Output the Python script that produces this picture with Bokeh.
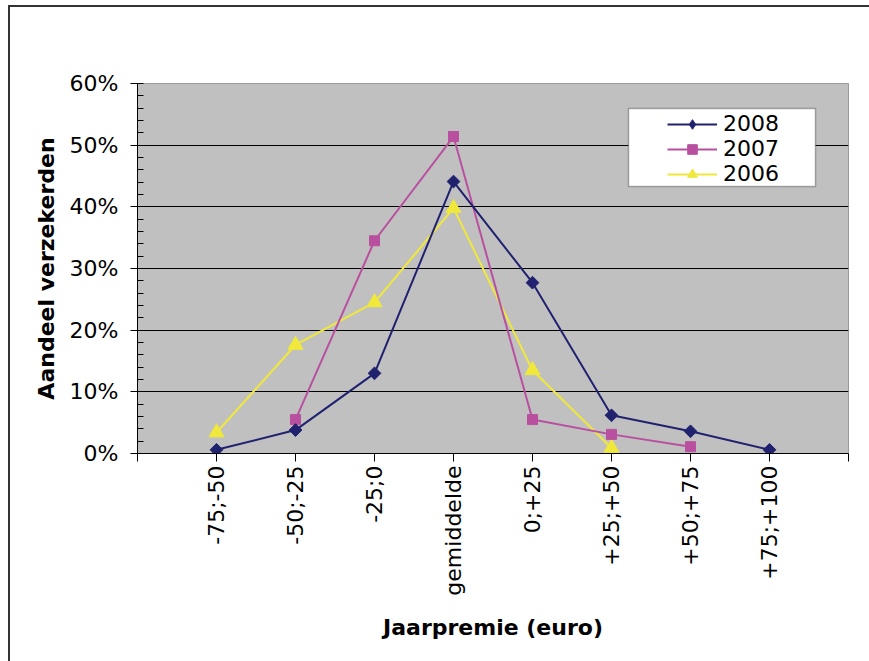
import math
from bokeh.plotting import figure
from bokeh.layouts import column
from bokeh.models import (Range1d, FixedTicker, NumeralTickFormatter, Legend, LegendItem,
                          BoxAnnotation, ColumnDataSource)
from bokeh.embed import file_html
from bokeh.resources import INLINE

nan = float("nan")

categories = ["-75;-50", "-50;-25", "-25;0", "gemiddelde", "0;+25", "+25;+50", "+50;+75", "+75;+100"]
y2008 = [0.006, 0.038, 0.130, 0.441, 0.277, 0.062, 0.036, 0.006]
y2007 = [nan, 0.055, 0.345, 0.514, 0.055, 0.031, 0.011, nan]
y2006 = [0.034, 0.176, 0.245, 0.398, 0.135, 0.009, nan, nan]
y_ticks = [0.0, 0.1, 0.2, 0.3, 0.4, 0.5, 0.6]

FONT = "DejaVu Sans"

xs = list(range(1, len(categories) + 1))
n_slots = len(categories) + 1

p = figure(width=870, height=660, x_range=Range1d(0, n_slots), y_range=Range1d(0, 0.6),
           output_backend="svg", toolbar_location=None,
           min_border_left=127, min_border_right=32, min_border_top=76, min_border_bottom=214)

p.background_fill_color = "#C0C0C0"
p.border_fill_color = "white"
p.outline_line_color = "#9a9a9a"

# axes
p.xaxis.ticker = FixedTicker(ticks=list(range(0, n_slots + 1)))
overrides = {0: "", n_slots: ""}
for i, c in enumerate(categories):
    overrides[i + 1] = c
p.xaxis.major_label_overrides = overrides
p.xaxis.major_label_orientation = math.pi / 2
p.xaxis.major_tick_out = 8
p.xaxis.major_tick_in = 0
p.xaxis.minor_tick_out = 0
p.xaxis.minor_tick_in = 0
p.xaxis.major_label_standoff = 4
p.xaxis.axis_label = "Jaarpremie (euro)"
p.xaxis.axis_label_standoff = 16

p.yaxis.ticker = FixedTicker(ticks=y_ticks,
                             minor_ticks=[round(i * 0.02, 2) for i in range(0, 31)])
p.yaxis.formatter = NumeralTickFormatter(format="0%")
p.yaxis.major_tick_out = 7
p.yaxis.major_tick_in = 0
p.yaxis.minor_tick_out = 0
p.yaxis.minor_tick_in = 6
p.yaxis.major_label_standoff = 12
p.yaxis.axis_label = "Aandeel verzekerden"
p.yaxis.axis_label_standoff = 8

for ax in (p.xaxis, p.yaxis):
    ax.axis_line_color = "black"
    ax.major_tick_line_color = "black"
    ax.minor_tick_line_color = "black"
    ax.major_label_text_font = FONT
    ax.major_label_text_font_size = "22px"
    ax.major_label_text_color = "black"
    ax.axis_label_text_font = FONT
    ax.axis_label_text_font_size = "22px"
    ax.axis_label_text_font_style = "bold"
    ax.axis_label_text_color = "black"

p.xgrid.visible = False
p.ygrid.ticker = FixedTicker(ticks=y_ticks)
p.ygrid.grid_line_color = "black"
p.ygrid.grid_line_width = 1

src = ColumnDataSource(dict(x=xs, y2008=y2008, y2007=y2007, y2006=y2006))

c08, c07, c06 = "#20216F", "#B9509F", "#F0E83A"

l06 = p.line("x", "y2006", source=src, line_color=c06, line_width=2)
m06 = p.scatter("x", "y2006", source=src, marker="triangle", size=15,
                fill_color=c06, line_color=c06)
l07 = p.line("x", "y2007", source=src, line_color=c07, line_width=2)
m07 = p.scatter("x", "y2007", source=src, marker="square", size=10,
                fill_color=c07, line_color=c07)
l08 = p.line("x", "y2008", source=src, line_color=c08, line_width=2)
m08 = p.scatter("x", "y2008", source=src, marker="square", size=9, angle=math.pi / 4,
                fill_color=c08, line_color=c08)
# legend-only diamond (single NaN point, never visible in the plot)
leg08 = p.scatter(x=[nan], y=[nan], marker="diamond", size=18, line_width=1,
                  fill_color=c08, line_color=c08)

# legend frame
box = BoxAnnotation(left=(628 - 137) / 79.0, right=(815 - 137) / 79.0,
                    top=(453 - 108) / (370 / 0.6), bottom=(453 - 186) / (370 / 0.6),
                    fill_color="white", fill_alpha=1.0, line_color="black", line_width=1.5)
p.add_layout(box)

legend = Legend(items=[LegendItem(label="2008", renderers=[l08, leg08]),
                       LegendItem(label="2007", renderers=[l07, m07]),
                       LegendItem(label="2006", renderers=[l06, m06])],
                location=(530, 267))
legend.background_fill_alpha = 0
legend.border_line_color = None
legend.padding = 2
legend.spacing = 0
legend.margin = 0
legend.label_height = 24
legend.glyph_height = 24
legend.glyph_width = 50
legend.label_standoff = 6
legend.label_text_font = FONT
legend.label_text_font_size = "22px"
legend.label_text_color = "black"
p.add_layout(legend)

lay = column(p)
lay.margin = (5, 0, 0, 8)
lay.styles = {"border-top": "2px solid #333333", "border-left": "2px solid #333333"}

html = file_html(lay, INLINE)
html = html.replace("<head>", "<head><style>html,body{overflow:hidden;margin:0;}</style>", 1)
open("out.html", "w").write(html)
